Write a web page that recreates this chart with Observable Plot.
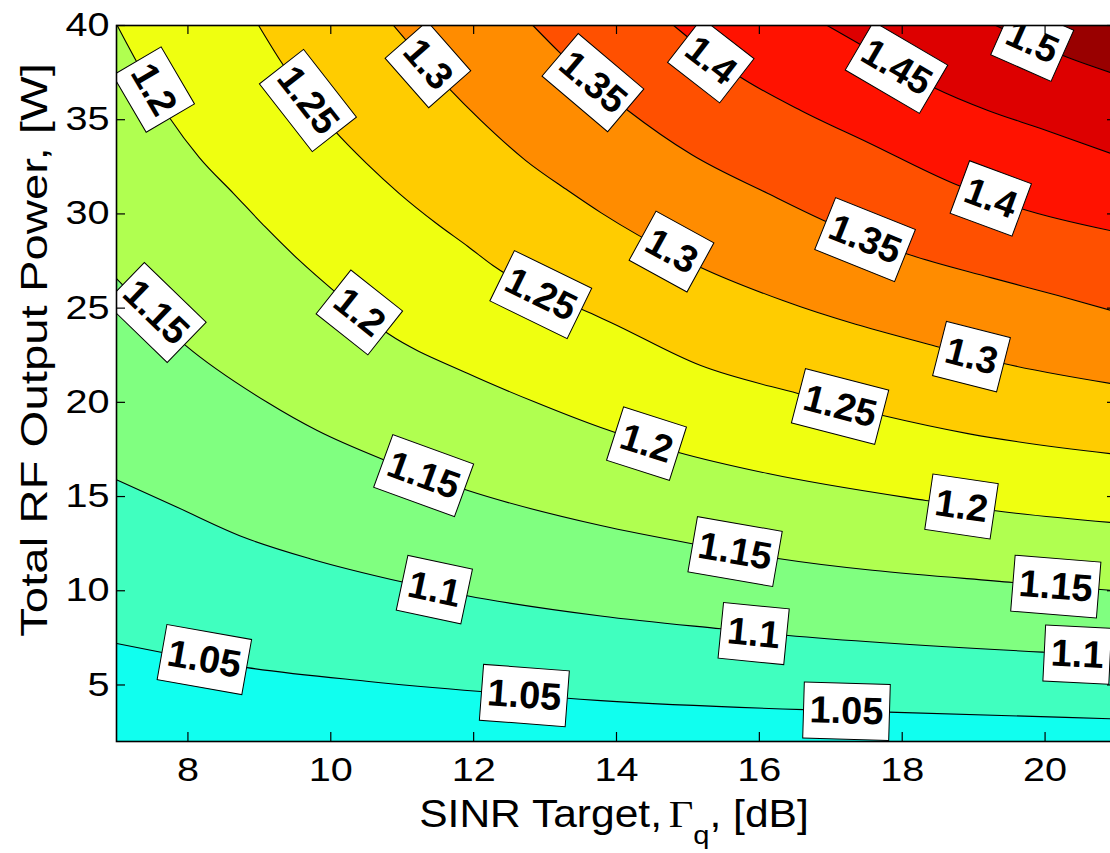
<!DOCTYPE html>
<html>
<head>
<meta charset="utf-8">
<script src="https://cdn.jsdelivr.net/npm/d3@7"></script>
<script src="https://cdn.jsdelivr.net/npm/@observablehq/plot@0.6"></script>
<style>
  html, body { margin: 0; padding: 0; background: #ffffff; }
  #chart svg { display: block; }
</style>
</head>
<body>
<div id="chart"></div>
<script>
// ---------------- data ----------------
const levels = [1.05, 1.1, 1.15, 1.2, 1.25, 1.3, 1.35, 1.4, 1.45, 1.5];
const bandColors = ["#10ffef", "#40ffbf", "#80ff80", "#b0ff50", "#efff10", "#ffcc00",
                    "#ff8c00", "#ff5000", "#ff1200", "#dd0000", "#990000"];
const xTicks = [8, 10, 12, 14, 16, 18, 20];
const yTicks = [5, 10, 15, 20, 25, 30, 35, 40];

// contour lines: [SINR target dB, total RF power W]
const c105 = [[7,7.20],[7.64,6.72],[8.83,5.92],[10.5,5.2],[12.10,4.65],[13.78,4.17],[16.62,3.69],[17.81,3.56],[21,3.2]];
const c110 = [[7,15.89],[7.85,14.43],[8.78,12.84],[9.72,11.69],[11.02,10.45],[11.89,9.75],[13.78,8.66],[15.46,7.98],[16.37,7.64],[19.98,6.74],[21,6.55]];
const c115 = [[7,26.57],[7.97,23.01],[9.11,20.0],[9.81,18.5],[10.74,16.95],[11.92,15.32],[13.78,13.46],[15.04,12.51],[16.26,11.71],[19.55,10.44],[21,10.0]];
const c120 = [[7.01,40],[7.74,35.12],[8.16,32.99],[8.64,31.08],[9.09,29.28],[9.56,27.53],[10.04,25.93],[10.80,23.65],[11.92,21.53],[12.84,20.04],[13.78,18.66],[14.87,17.34],[16.12,16.22],[18.33,14.79],[19.28,14.26],[21,13.6]];
const c125 = [[8.99,40],[9.32,37.98],[10.05,34.43],[10.50,32.68],[10.96,31.08],[11.48,29.49],[11.92,28.27],[12.27,27.26],[13.65,24.71],[13.92,24.24],[15.18,21.95],[16.54,20.47],[17.73,19.30],[18.92,18.34],[21,17.24]];
const c130 = [[10.88,40],[11.64,36.71],[12.10,34.96],[12.73,32.83],[13.32,31.24],[13.78,30.07],[15.18,27.16],[16.33,25.40],[18.54,22.91],[19.42,22.06],[21,20.95]];
const c135 = [[12.83,40],[13.22,38.51],[14.16,35.49],[15.05,33.15],[16.12,31.08],[16.90,29.65],[18.05,27.90],[19.24,26.62],[20.18,25.67],[21,24.8]];
const c140 = [[14.80,40],[15.70,37.35],[16.58,35.49],[17.52,33.79],[18.72,31.61],[19.66,30.29],[21,29.05]];
const c145 = [[16.95,40],[17.39,39.04],[18.44,36.71],[19.20,35.49],[19.94,34.53],[21,33.1]];
const c150 = [[19.31,40],[20.32,38.30],[21,37.4]];
const contours = [c105, c110, c115, c120, c125, c130, c135, c140, c145, c150];

// inline contour labels
const labelLevel = [1.05,1.05,1.05, 1.1,1.1,1.1, 1.15,1.15,1.15,1.15, 1.2,1.2,1.2,1.2, 1.25,1.25,1.25, 1.3,1.3,1.3, 1.35,1.35, 1.4,1.4, 1.45, 1.5];
const labelX = [8.23,12.71,17.22, 11.45,15.92,20.45, 7.55,11.30,15.66,20.15, 7.52,10.40,14.42,18.83, 9.68,12.94,17.13, 11.36,14.77,18.97, 13.67,17.48, 15.32,19.24, 17.92, 19.82];
const labelY = [6.35,4.44,3.61, 10.06,7.73,6.61, 24.77,16.11,12.08,10.22, 36.60,24.77,17.81,14.47, 36.02,25.72,19.78, 37.93,28.0,22.43, 36.97,28.64, 38.14,30.82, 37.77, 39.10];

// ---------------- layout ----------------
const base = {
  width: 1110, height: 853,
  marginTop: 25, marginRight: -6, marginBottom: 112, marginLeft: 116,
  x: {domain: [7, 21]},
  y: {domain: [2, 40]}
};
const FONT = "'Liberation Sans', Helvetica, Arial, sans-serif";

// probe plot to get Plot's own scales for label orientation
const probe = Plot.plot({...base, marks: [Plot.frame()]});
const sx = probe.scale("x"), sy = probe.scale("y");

function yAt(c, x) {
  if (x <= c[0][0]) return c[0][1];
  if (x >= c[c.length - 1][0]) return c[c.length - 1][1];
  const i = c.findIndex(p => p[0] >= x);
  const [x0, y0] = c[i - 1], [x1, y1] = c[i];
  return y0 + (y1 - y0) * (x - x0) / (x1 - x0);
}
function angleAt(c, x) {
  const h = 0.3;
  const a = Math.max(x - h, c[0][0]), b = Math.min(x + h, c[c.length - 1][0]);
  return Math.atan2(sy.apply(yAt(c, b)) - sy.apply(yAt(c, a)), sx.apply(b) - sx.apply(a)) * 180 / Math.PI;
}

const labels = labelLevel.map((lv, i) => ({
  x: labelX[i], y: labelY[i], text: String(lv),
  angle: angleAt(contours[levels.indexOf(lv)], labelX[i])
}));

function boxSymbol(w, h) {
  return {
    draw(ctx) {
      ctx.moveTo(-w / 2, -h / 2);
      ctx.lineTo(w / 2, -h / 2);
      ctx.lineTo(w / 2, h / 2);
      ctx.lineTo(-w / 2, h / 2);
      ctx.closePath();
    }
  };
}

const frameH = 853 - 25 - 112, frameW = 1110 - 116 + 6, tickLen = 9;

const plot = Plot.plot({
  ...base,
  style: {fontFamily: FONT, fontSize: "33px", color: "black", background: "white"},
  marks: [
    Plot.frame({fill: bandColors[0]}),
    ...contours.map((c, k) => Plot.areaY(c, {
      x: d => d[0], y1: d => d[1], y2: () => 40,
      fill: bandColors[k + 1], curve: "monotone-x", clip: true
    })),
    ...contours.map(c => Plot.line(c, {
      x: d => d[0], y: d => d[1], stroke: "black", strokeWidth: 1.1,
      curve: "monotone-x", clip: true
    })),
    Plot.dot(labels.filter(d => d.text.length === 3), {
      x: "x", y: "y", rotate: "angle", symbol: boxSymbol(66, 56),
      fill: "white", stroke: "black", strokeWidth: 1, clip: true
    }),
    Plot.dot(labels.filter(d => d.text.length === 4), {
      x: "x", y: "y", rotate: "angle", symbol: boxSymbol(86, 56),
      fill: "white", stroke: "black", strokeWidth: 1, clip: true
    }),
    Plot.text(labels, {
      x: "x", y: "y", text: "text", rotate: "angle",
      fontSize: 38, fontWeight: "bold", fill: "black", fontFamily: FONT, clip: true
    }),
    Plot.tickX(xTicks, {x: d => d, insetTop: frameH - tickLen, stroke: "black", strokeWidth: 1.2}),
    Plot.tickX(xTicks, {x: d => d, insetBottom: frameH - tickLen, stroke: "black", strokeWidth: 1.2}),
    Plot.tickY(yTicks, {y: d => d, insetRight: frameW - tickLen, stroke: "black", strokeWidth: 1.2}),
    Plot.tickY(yTicks, {y: d => d, insetLeft: frameW - tickLen, stroke: "black", strokeWidth: 1.2}),
    Plot.axisX({ticks: xTicks, tickSize: 0, tickPadding: 16, label: null}),
    Plot.axisY({ticks: yTicks, tickSize: 0, tickPadding: 7, label: null}),
    Plot.frame({stroke: "black", strokeWidth: 1.6})
  ]
});

// widen the axis tick labels like the reference typeface
d3.select(plot).selectAll('g[aria-label$="tick label"] text').each(function () {
  const t = this.getAttribute("transform") || "";
  this.setAttribute("transform", t + " scale(1.2,1)");
});

// axis titles (with subscript), as real SVG text
const svg = d3.select(plot);
const xl = svg.append("text")
  .attr("transform", "translate(614,827) scale(1.12,1)")
  .attr("text-anchor", "middle")
  .attr("font-family", FONT)
  .attr("font-size", 38)
  .attr("fill", "black");
xl.append("tspan").text("SINR Target,");
xl.append("tspan").attr("font-family", "'Liberation Serif', 'Times New Roman', serif").attr("dx", 6).text("Γ");
xl.append("tspan").attr("font-size", 26).attr("dy", 17).text("q");
xl.append("tspan").attr("dy", -17).text(", [dB]");

svg.append("text")
  .attr("transform", "translate(47,350) rotate(-90) scale(1.28,1)")
  .attr("text-anchor", "middle")
  .attr("font-family", FONT)
  .attr("font-size", 37)
  .attr("fill", "black")
  .text("Total RF Output Power, [W]");

document.getElementById("chart").appendChild(plot);
</script>
</body>
</html>
